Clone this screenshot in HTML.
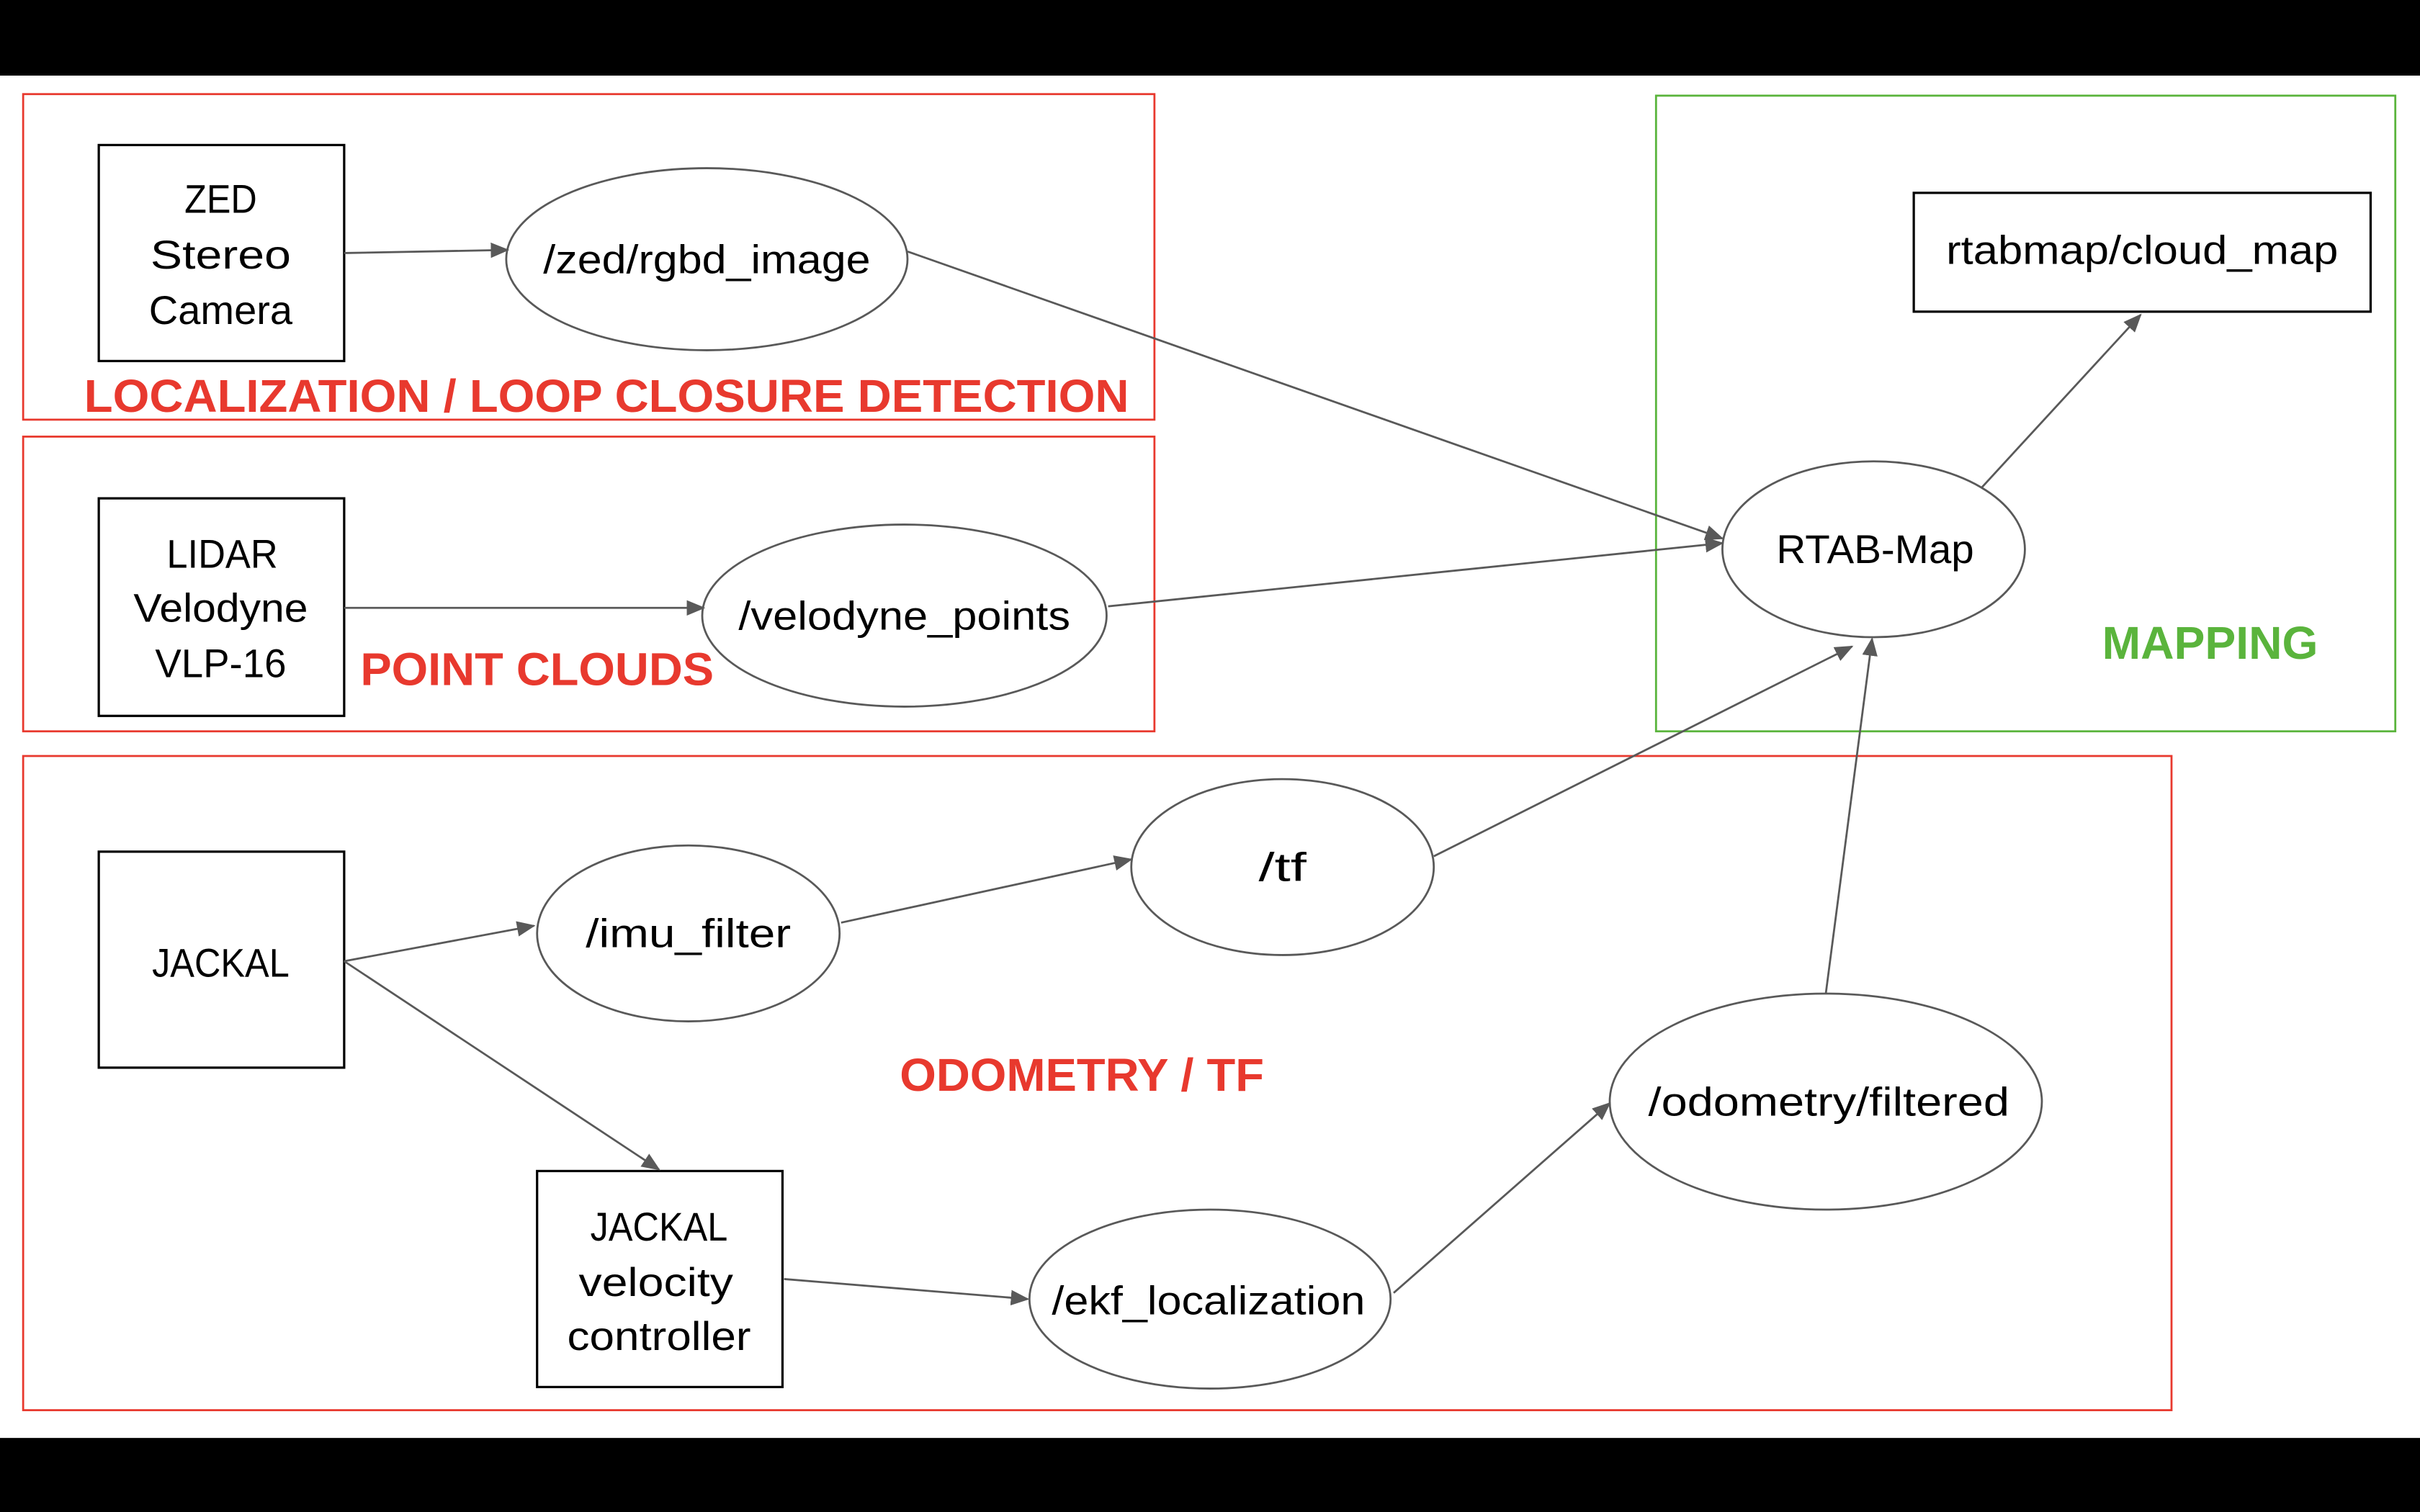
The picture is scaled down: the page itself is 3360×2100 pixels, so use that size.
<!DOCTYPE html>
<html><head><meta charset="utf-8"><style>
html,body{margin:0;padding:0;background:#fff;}
svg{display:block;}
text{font-family:"Liberation Sans",sans-serif;}
.n{font-size:26px;fill:#000;text-anchor:middle;}
.r{font-size:30px;font-weight:bold;fill:#e8392e;text-anchor:middle;}
.g{font-size:30px;font-weight:bold;fill:#5ab43c;text-anchor:middle;}
</style></head><body>
<svg width="3360" height="2100" viewBox="0 0 1568 980" xmlns="http://www.w3.org/2000/svg">
<defs><marker id="a" markerWidth="12" markerHeight="10" refX="11" refY="5" orient="auto" markerUnits="userSpaceOnUse"><path d="M0,0 L12,5 L0,10 z" fill="#595959"/></marker></defs>
<rect x="0" y="0" width="1568" height="980" fill="#fff"/>
<rect x="0" y="0" width="1568" height="49" fill="#000"/>
<rect x="0" y="932" width="1568" height="48" fill="#000"/>
<g fill="none" stroke-width="1.3">
<rect x="15" y="61" width="733" height="211" stroke="#e8392e"/>
<rect x="15" y="283" width="733" height="191" stroke="#e8392e"/>
<rect x="15" y="490" width="1392" height="424" stroke="#e8392e"/>
<rect x="1073" y="62" width="479" height="412" stroke="#5ab43c"/>
</g>
<g fill="#fff" stroke="#000" stroke-width="1.5">
<rect x="64" y="94" width="159" height="140"/>
<rect x="64" y="323" width="159" height="141"/>
<rect x="64" y="552" width="159" height="140"/>
<rect x="348" y="759" width="159" height="140"/>
<rect x="1240" y="125" width="296" height="77"/>
</g>
<g fill="#fff" stroke="#595959" stroke-width="1.3">
<ellipse cx="458" cy="168" rx="130" ry="59"/>
<ellipse cx="586" cy="399" rx="131" ry="59"/>
<ellipse cx="446" cy="605" rx="98" ry="57"/>
<ellipse cx="831" cy="562" rx="98" ry="57"/>
<ellipse cx="784" cy="842" rx="117" ry="58"/>
<ellipse cx="1183" cy="714" rx="140" ry="70"/>
<ellipse cx="1214" cy="356" rx="98" ry="57"/>
</g>
<g stroke="#595959" stroke-width="1.3" marker-end="url(#a)">
<line x1="223" y1="164" x2="329" y2="162"/>
<line x1="588" y1="163" x2="1116" y2="349"/>
<line x1="718" y1="393" x2="1116" y2="352"/>
<line x1="223" y1="394" x2="456" y2="394"/>
<line x1="223" y1="623" x2="346" y2="600"/>
<line x1="223" y1="623" x2="427" y2="758"/>
<line x1="545" y1="598" x2="733" y2="557"/>
<line x1="929" y1="555" x2="1200" y2="419"/>
<line x1="508" y1="829" x2="666" y2="842"/>
<line x1="903" y1="838" x2="1043" y2="715"/>
<line x1="1183" y1="644" x2="1213" y2="414"/>
<line x1="1284" y1="316" x2="1387" y2="204"/>
</g>
<g lengthAdjust="spacingAndGlyphs">
<text x="143" y="138" class="n" textLength="47" lengthAdjust="spacingAndGlyphs">ZED</text>
<text x="143" y="174" class="n" textLength="91" lengthAdjust="spacingAndGlyphs">Stereo</text>
<text x="143" y="210" class="n" textLength="93" lengthAdjust="spacingAndGlyphs">Camera</text>
<text x="144" y="368" class="n" textLength="72" lengthAdjust="spacingAndGlyphs">LIDAR</text>
<text x="143" y="403" class="n" textLength="113" lengthAdjust="spacingAndGlyphs">Velodyne</text>
<text x="143" y="439" class="n" textLength="85" lengthAdjust="spacingAndGlyphs">VLP-16</text>
<text x="143" y="633" class="n" textLength="89" lengthAdjust="spacingAndGlyphs">JACKAL</text>
<text x="427" y="804" class="n" textLength="89" lengthAdjust="spacingAndGlyphs">JACKAL</text>
<text x="425" y="840" class="n" textLength="100" lengthAdjust="spacingAndGlyphs">velocity</text>
<text x="427" y="875" class="n" textLength="119" lengthAdjust="spacingAndGlyphs">controller</text>
<text x="1388" y="171" class="n" textLength="254" lengthAdjust="spacingAndGlyphs">rtabmap/cloud_map</text>
<text x="458" y="177" class="n" textLength="212" lengthAdjust="spacingAndGlyphs">/zed/rgbd_image</text>
<text x="586" y="408" class="n" textLength="215" lengthAdjust="spacingAndGlyphs">/velodyne_points</text>
<text x="446" y="614" class="n" textLength="133" lengthAdjust="spacingAndGlyphs">/imu_filter</text>
<text x="831" y="571" class="n" textLength="31" lengthAdjust="spacingAndGlyphs">/tf</text>
<text x="783" y="852" class="n" textLength="203" lengthAdjust="spacingAndGlyphs">/ekf_localization</text>
<text x="1185" y="723" class="n" textLength="234" lengthAdjust="spacingAndGlyphs">/odometry/filtered</text>
<text x="1215" y="365" class="n" textLength="128" lengthAdjust="spacingAndGlyphs">RTAB-Map</text>
</g>
<text x="393" y="267" class="r" textLength="677" lengthAdjust="spacingAndGlyphs">LOCALIZATION / LOOP CLOSURE DETECTION</text>
<text x="348" y="444" class="r" textLength="229" lengthAdjust="spacingAndGlyphs">POINT CLOUDS</text>
<text x="701" y="707" class="r" textLength="236" lengthAdjust="spacingAndGlyphs">ODOMETRY / TF</text>
<text x="1432" y="427" class="g" textLength="140" lengthAdjust="spacingAndGlyphs">MAPPING</text>
</svg>
</body></html>
